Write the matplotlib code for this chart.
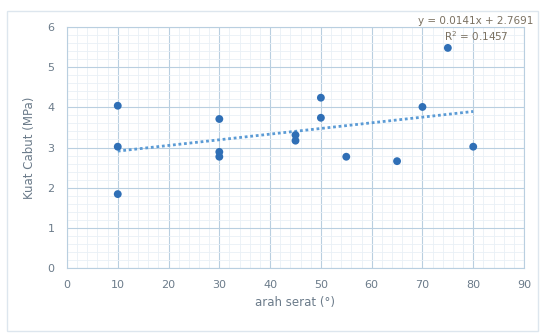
import numpy as np
import matplotlib.pyplot as plt
from matplotlib.patches import Rectangle
from matplotlib.ticker import MultipleLocator

# arah serat (derajat) dan kuat cabut (MPa)
arah_serat = [10, 10, 10, 30, 30, 30, 45, 45, 50, 50, 55, 65, 70, 75, 80]
kuat_cabut = [4.04, 3.02, 1.84, 3.71, 2.89, 2.77, 3.31, 3.17, 4.24, 3.74, 2.77, 2.66, 4.01, 5.48, 3.02]

# koefisien trendline linear
slope = 0.0141
intercept = 2.7691
r_squared = 0.1457

text_color = '#6b7b8a'
grid_color = '#b9cfe0'
minor_color = '#e9f0f6'

fig = plt.figure(figsize=(5.41, 3.33), dpi=100)
fig.patches.append(Rectangle((0.013, 0.006), 0.982, 0.962, transform=fig.transFigure,
                             fill=False, edgecolor='#dde6ee', linewidth=1.0))
ax = fig.add_axes([0.1238, 0.1952, 0.8448, 0.7237])

ax.set_xlim(0, 90)
ax.set_ylim(0, 6)
ax.xaxis.set_major_locator(MultipleLocator(10))
ax.yaxis.set_major_locator(MultipleLocator(1))
ax.xaxis.set_minor_locator(MultipleLocator(2))
ax.yaxis.set_minor_locator(MultipleLocator(0.2))
ax.grid(which='minor', color=minor_color, linewidth=0.6)
ax.grid(which='major', color=grid_color, linewidth=0.8)
ax.set_axisbelow(True)

for side in ['top', 'right', 'left', 'bottom']:
    ax.spines[side].set_color(grid_color)
    ax.spines[side].set_linewidth(0.8)

ax.tick_params(which='both', length=0, colors=text_color, labelsize=8)
ax.tick_params(axis='x', pad=9)
ax.tick_params(axis='y', pad=9)

ax.scatter(arah_serat, kuat_cabut, s=32, color='#2f6fb6', zorder=3, edgecolors='none')

x_trend = np.array([min(arah_serat), max(arah_serat)])
ax.plot(x_trend, slope * x_trend + intercept, linestyle=(0, (1, 1)), color='#5b9bd5',
        linewidth=2.0, zorder=2)

ax.text(80.5, 5.94, f'y = {slope}x + {intercept}\nR$^2$ = {r_squared}', ha='center',
        va='center', fontsize=7.5, color='#7a7060', linespacing=1.3, zorder=4)

ax.set_xlabel('arah serat (°)', fontsize=8.5, color=text_color, labelpad=4)
ax.set_ylabel('Kuat Cabut (MPa)', fontsize=8.5, color=text_color, labelpad=8)

fig.savefig('out.png', dpi=100)
